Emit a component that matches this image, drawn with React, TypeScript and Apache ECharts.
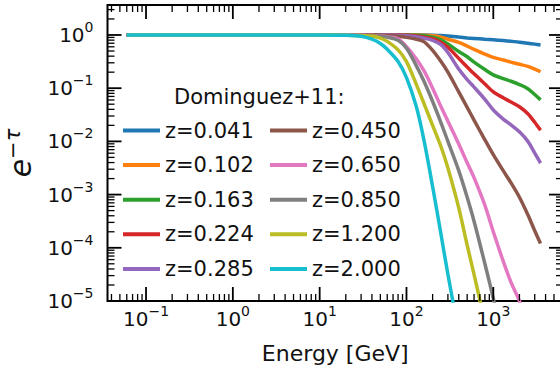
import React, { useEffect, useRef } from "react";
import * as echarts from "echarts";

const FONT = "'DejaVu Sans', 'Liberation Sans', sans-serif";
const TEXT = "#111111";
const X_MIN = 0.036;
const X_MAX = 6350;
const Y_MIN = 1e-5;
const Y_MAX = 3.66;

// Energy grid [GeV]
const energies = [0.06, 10, 20, 30, 40, 50, 60, 80, 100, 130, 160, 200, 250, 300, 400, 500, 600, 800, 1000, 1300, 1600, 2000, 2500, 3000, 3500];

// e^-tau values (null = below the plotted range)
const z0041 = [1, 1, 1, 1, 1, 1, 1, 1, 1, 1, 1, 0.993, 0.977, 0.955, 0.912, 0.881, 0.861, 0.832, 0.813, 0.785, 0.759, 0.733, 0.7, 0.673, 0.649];
const z0102 = [1, 1, 1, 1, 1, 1, 1, 1, 1, 1, 0.989, 0.966, 0.912, 0.832, 0.724, 0.617, 0.537, 0.437, 0.38, 0.339, 0.309, 0.282, 0.257, 0.229, 0.204];
const z0163 = [1, 1, 1, 1, 1, 1, 1, 1, 1, 0.989, 0.966, 0.912, 0.813, 0.676, 0.49, 0.389, 0.309, 0.224, 0.178, 0.151, 0.135, 0.117, 0.0977, 0.0759, 0.0603];
const z0224 = [1, 1, 1, 1, 1, 1, 1, 1, 0.989, 0.955, 0.912, 0.851, 0.724, 0.589, 0.363, 0.251, 0.186, 0.12, 0.0851, 0.0661, 0.055, 0.0447, 0.0331, 0.0229, 0.0162];
const z0285 = [1, 1, 1, 1, 1, 1, 1, 0.989, 0.966, 0.923, 0.871, 0.794, 0.661, 0.468, 0.229, 0.145, 0.105, 0.0617, 0.0389, 0.0263, 0.0204, 0.0151, 0.01, 0.00603, 0.00389];
const z0450 = [1, 1, 1, 1, 1, 0.989, 0.977, 0.944, 0.902, 0.832, 0.741, 0.513, 0.316, 0.2, 0.0851, 0.0437, 0.0251, 0.0107, 0.00562, 0.00282, 0.00166, 8.91e-4, 4.17e-4, 2.09e-4, 1.2e-4];
const z0650 = [1, 1, 1, 0.989, 0.977, 0.955, 0.923, 0.851, 0.603, 0.355, 0.209, 0.1, 0.0447, 0.024, 0.00891, 0.00398, 0.00209, 6.31e-4, 2.0e-4, 5.62e-5, 2.24e-5, 1.0e-5, 3.16e-6, null, null];
const z0850 = [1, 1, 0.993, 0.982, 0.966, 0.944, 0.912, 0.794, 0.562, 0.263, 0.132, 0.0562, 0.0224, 0.01, 0.00282, 8.91e-4, 3.16e-4, 5.01e-5, 1.12e-5, 1.58e-6, null, null, null, null, null];
const z1200 = [1, 1, 0.989, 0.973, 0.955, 0.871, 0.759, 0.525, 0.316, 0.117, 0.0501, 0.02, 0.00794, 0.00316, 5.62e-4, 1.12e-4, 3.16e-5, 3.98e-6, null, null, null, null, null, null, null];
const z2000 = [1, 1, 0.985, 0.944, 0.832, 0.692, 0.537, 0.316, 0.158, 0.0447, 0.01, 0.00141, 1.78e-4, 3.16e-5, 2.51e-6, null, null, null, null, null, null, null, null, null, null];

const seriesNames = ["z=0.041", "z=0.102", "z=0.163", "z=0.224", "z=0.285", "z=0.450", "z=0.650", "z=0.850", "z=1.200", "z=2.000"];
const seriesValues = [z0041, z0102, z0163, z0224, z0285, z0450, z0650, z0850, z1200, z2000];
const colors = ["#1f77b4", "#ff7f0e", "#2ca02c", "#d62728", "#9467bd", "#8c564b", "#e377c2", "#7f7f7f", "#bcbd22", "#17becf"];

const xMajorTicks = [0.1, 1, 10, 100, 1000];
const yMajorTicks = [1e-5, 1e-4, 1e-3, 1e-2, 1e-1, 1];
const minorMultipliers = [2, 3, 4, 5, 6, 7, 8, 9];
const xDecades = [0.01, 0.1, 1, 10, 100, 1000];
const yDecades = [1e-5, 1e-4, 1e-3, 1e-2, 1e-1, 1];

const legendTitle = "Dominguez+11:";

function supLabel(v: number): string {
  const l = Math.log10(v);
  const e = Math.round(l);
  if (Math.abs(l - e) > 1e-6) return "";
  const s = e < 0 ? "\u2212" + String(-e) : String(e);
  return "{b|10}{s|" + s + "}";
}

const labelRich = {
  b: { fontSize: 20, lineHeight: 30, fontFamily: FONT, color: TEXT },
  s: { fontSize: 14, lineHeight: 16, verticalAlign: "top", fontFamily: FONT, color: TEXT },
};

export default function App() {
  const ref = useRef<HTMLDivElement>(null);
  useEffect(() => {
    if (!ref.current) return;
    const chart = echarts.init(ref.current, null, { renderer: "svg" });

    const xMinor: number[] = [];
    xDecades.forEach((d) => minorMultipliers.forEach((m) => {
      const v = d * m;
      if (v > X_MIN && v < X_MAX) xMinor.push(v);
    }));
    const yMinor: number[] = [];
    yDecades.forEach((d) => minorMultipliers.forEach((m) => {
      const v = d * m;
      if (v > Y_MIN && v < Y_MAX) yMinor.push(v);
    }));

    const xTickData = [
      ...xMajorTicks.map((v) => [v, Y_MIN, 14, 1.8]),
      ...xMinor.map((v) => [v, Y_MIN, 7, 1.3]),
    ];
    const yTickData = [
      ...yMajorTicks.map((v) => [X_MIN, v, 14, 1.8]),
      ...yMinor.map((v) => [X_MIN, v, 7, 1.3]),
    ];

    const lineSeries = seriesNames.map((name, i) => ({
      type: "line",
      name,
      data: energies
        .map((e, j) => [e, seriesValues[i][j]])
        .filter((p) => p[1] !== null),
      showSymbol: false,
      symbol: "none",
      smooth: 0.3,
      clip: true,
      lineStyle: { width: 3.5, color: colors[i], cap: "butt" },
      itemStyle: { color: colors[i] },
      z: 3,
    }));

    const legendCommon = {
      orient: "vertical",
      top: 118.5,
      padding: 0,
      icon: "rect",
      itemWidth: 37,
      itemHeight: 4,
      itemGap: 10.6,
      selectedMode: false,
      textStyle: { fontSize: 21, lineHeight: 24, fontFamily: FONT, color: TEXT },
    };

    const option: any = {
      animation: false,
      backgroundColor: "#ffffff",
      grid: {
        left: 107.5,
        top: 5,
        width: 455.5,
        height: 296,
        containLabel: false,
        outerBoundsMode: "none",
        show: true,
        borderColor: "#000",
        borderWidth: 2,
        backgroundColor: "transparent",
      },
      xAxis: {
        type: "log",
        logBase: 10,
        min: X_MIN,
        max: X_MAX,
        axisLine: { show: false },
        axisTick: { show: false },
        splitLine: { show: false },
        minorTick: { show: false },
        axisLabel: {
          formatter: supLabel,
          margin: 3,
          rich: labelRich,
          showMinLabel: true,
          showMaxLabel: true,
        },
        name: "Energy [GeV]",
        nameLocation: "middle",
        nameGap: 41,
        nameTextStyle: { fontSize: 22, fontFamily: FONT, color: TEXT },
      },
      yAxis: {
        type: "log",
        logBase: 10,
        min: Y_MIN,
        max: Y_MAX,
        axisLine: { show: false },
        axisTick: { show: false },
        splitLine: { show: false },
        minorTick: { show: false },
        axisLabel: {
          formatter: supLabel,
          margin: 14,
          rich: labelRich,
          showMinLabel: true,
          showMaxLabel: true,
        },
        name: "{b|e}{s|\u2212\u03c4}",
        nameLocation: "middle",
        nameRotate: 90,
        nameGap: 69,
        nameTextStyle: {
          rich: {
            b: { fontSize: 30, lineHeight: 36, fontStyle: "italic", fontFamily: FONT, color: TEXT },
            s: { fontSize: 21, lineHeight: 22, verticalAlign: "top", fontStyle: "italic", fontFamily: FONT, color: TEXT },
          },
        },
      },
      legend: [
        { ...legendCommon, data: seriesNames.slice(0, 5), left: 123 },
        { ...legendCommon, data: seriesNames.slice(5), left: 270 },
      ],
      graphic: [
        {
          type: "text",
          x: 174,
          y: 97,
          silent: true,
          style: {
            text: legendTitle,
            fontSize: 21,
            fontFamily: FONT,
            fill: TEXT,
            align: "left",
            verticalAlign: "middle",
          },
        },
      ],
      series: [
        ...lineSeries,
        {
          type: "custom",
          name: "xticks",
          coordinateSystem: "cartesian2d",
          silent: true,
          z: 10,
          encode: { x: 0, y: 1 },
          data: xTickData,
          renderItem: (_p: any, api: any) => {
            const v = api.value(0);
            const len = api.value(2);
            const w = api.value(3);
            const b = api.coord([v, Y_MIN]);
            const t = api.coord([v, Y_MAX]);
            return {
              type: "group",
              children: [
                { type: "line", shape: { x1: b[0], y1: b[1], x2: b[0], y2: b[1] - len }, style: { stroke: "#000", lineWidth: w } },
                { type: "line", shape: { x1: t[0], y1: t[1], x2: t[0], y2: t[1] + len }, style: { stroke: "#000", lineWidth: w } },
              ],
            };
          },
        },
        {
          type: "custom",
          name: "yticks",
          coordinateSystem: "cartesian2d",
          silent: true,
          z: 10,
          encode: { x: 0, y: 1 },
          data: yTickData,
          renderItem: (_p: any, api: any) => {
            const v = api.value(1);
            const len = api.value(2);
            const w = api.value(3);
            const l = api.coord([X_MIN, v]);
            const r = api.coord([X_MAX, v]);
            return {
              type: "group",
              children: [
                { type: "line", shape: { x1: l[0], y1: l[1], x2: l[0] + len, y2: l[1] }, style: { stroke: "#000", lineWidth: w } },
                { type: "line", shape: { x1: r[0], y1: r[1], x2: r[0] - len, y2: r[1] }, style: { stroke: "#000", lineWidth: w } },
              ],
            };
          },
        },
      ],
    };

    chart.setOption(option);
    return () => chart.dispose();
  }, []);

  return (
    <div
      ref={ref}
      style={{ position: "absolute", left: 0, top: 0, width: 560, height: 369, background: "#fff" }}
    />
  );
}
